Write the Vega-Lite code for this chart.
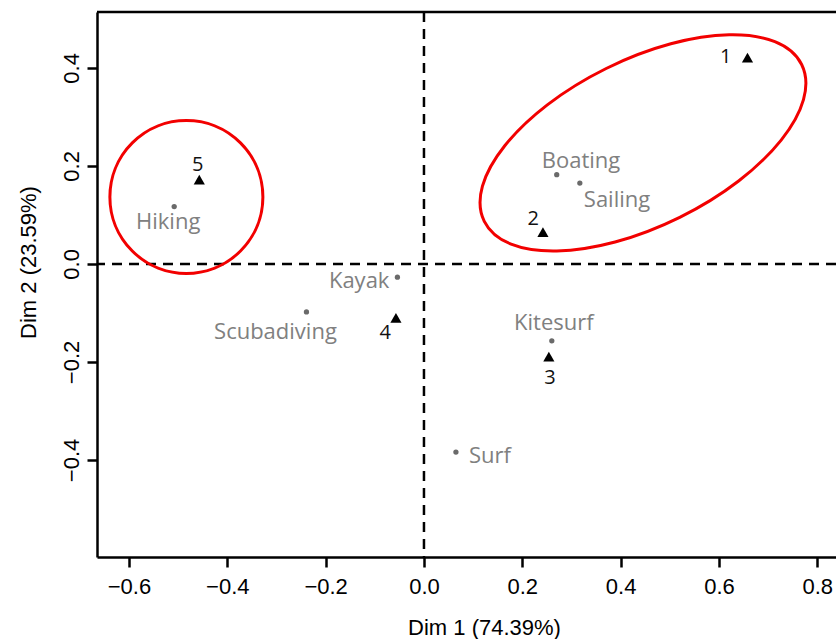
{
  "$schema": "https://vega.github.io/schema/vega-lite/v6.json",
  "autosize": "none",
  "width": 739,
  "height": 545,
  "padding": {"left": 97, "top": 12, "right": 0, "bottom": 82},
  "background": "white",
  "config": {
    "view": {"stroke": null},
    "axis": {
      "grid": false,
      "domainColor": "black",
      "domainWidth": 2.5,
      "tickColor": "black",
      "tickWidth": 2.5,
      "tickSize": 10,
      "labelFont": "Liberation Sans",
      "labelFontSize": 22,
      "labelColor": "black",
      "titleFont": "Liberation Sans",
      "titleFontSize": 22,
      "titleFontWeight": "normal",
      "titleColor": "black"
    }
  },
  "datasets": {
    "points": [
      {"name": "1", "type": "group", "x": 0.658, "y": 0.421},
      {"name": "2", "type": "group", "x": 0.242, "y": 0.065},
      {"name": "3", "type": "group", "x": 0.254, "y": -0.189},
      {"name": "4", "type": "group", "x": -0.057, "y": -0.110},
      {"name": "5", "type": "group", "x": -0.457, "y": 0.172},
      {"name": "Boating", "type": "activity", "x": 0.270, "y": 0.182},
      {"name": "Sailing", "type": "activity", "x": 0.317, "y": 0.165},
      {"name": "Hiking", "type": "activity", "x": -0.508, "y": 0.117},
      {"name": "Kayak", "type": "activity", "x": -0.054, "y": -0.027},
      {"name": "Scubadiving", "type": "activity", "x": -0.239, "y": -0.098},
      {"name": "Kitesurf", "type": "activity", "x": 0.260, "y": -0.157},
      {"name": "Surf", "type": "activity", "x": 0.065, "y": -0.384}
    ],
    "circles": [{"x": -0.4832, "y": 0.1367}],
    "ellipses": [{"x": 0.4454, "y": 0.2469}]
  },
  "layer": [
    {
      "data": {"name": "points"},
      "transform": [{"filter": "datum.type == 'activity'"}],
      "mark": {"type": "point", "shape": "circle", "size": 28, "filled": true, "color": "#6a6a6a", "opacity": 1},
      "encoding": {
        "x": {
          "field": "x", "type": "quantitative",
          "scale": {"domain": [-0.665, 0.838], "nice": false, "zero": false},
          "axis": {
            "title": "Dim 1 (74.39%)",
            "values": [-0.6, -0.4, -0.2, 0, 0.2, 0.4, 0.6, 0.8],
            "format": ".1f",
            "labelPadding": 9,
            "labelFlush": false,
            "titleX": 387, "titleY": 77, "titleBaseline": "alphabetic", "titleAlign": "center"
          }
        },
        "y": {
          "field": "y", "type": "quantitative",
          "scale": {"domain": [-0.598, 0.514], "nice": false, "zero": false},
          "axis": {
            "title": "Dim 2 (23.59%)",
            "values": [-0.4, -0.2, 0, 0.2, 0.4],
            "format": ".1f",
            "labelAngle": -90,
            "labelAlign": "center",
            "labelBaseline": "middle",
            "labelPadding": 16,
            "labelFlush": false,
            "titleX": -69, "titleY": 250, "titleBaseline": "middle", "titleAngle": -90, "titleAlign": "center"
          }
        }
      }
    },
    {
      "data": {"values": [{}]},
      "mark": {"type": "rule", "color": "black", "strokeWidth": 2.5, "strokeDash": [10, 7]},
      "encoding": {"x": {"datum": 0, "type": "quantitative"}}
    },
    {
      "data": {"values": [{}]},
      "mark": {"type": "rule", "color": "black", "strokeWidth": 2.5, "strokeDash": [10, 7]},
      "encoding": {"y": {"datum": 0, "type": "quantitative"}}
    },
    {
      "data": {"values": [{}]},
      "mark": {"type": "rule", "color": "black", "strokeWidth": 2.5},
      "encoding": {"y": {"datum": 0.514, "type": "quantitative"}}
    },
    {
      "data": {"name": "circles"},
      "mark": {"type": "point", "shape": "circle", "size": 23409, "filled": false, "stroke": "#f20000", "strokeWidth": 3, "opacity": 1},
      "encoding": {"x": {"field": "x", "type": "quantitative"}, "y": {"field": "y", "type": "quantitative"}}
    },
    {
      "data": {"name": "ellipses"},
      "mark": {
        "type": "point",
        "shape": "M 1 0 C 1 0.259 0.5523 0.469 0 0.469 C -0.5523 0.469 -1 0.259 -1 0 C -1 -0.259 -0.5523 -0.469 0 -0.469 C 0.5523 -0.469 1 -0.259 1 0 Z",
        "size": 125316, "angle": -26.3, "filled": false, "stroke": "#f20000", "strokeWidth": 3, "opacity": 1
      },
      "encoding": {"x": {"field": "x", "type": "quantitative"}, "y": {"field": "y", "type": "quantitative"}}
    },
    {
      "data": {"name": "points"},
      "transform": [{"filter": "datum.type == 'group'"}],
      "mark": {"type": "point", "shape": "triangle-up", "size": 125, "filled": true, "color": "black", "opacity": 1},
      "encoding": {"x": {"field": "x", "type": "quantitative"}, "y": {"field": "y", "type": "quantitative"}}
    },
    {
      "data": {"name": "points"},
      "encoding": {"x": {"field": "x", "type": "quantitative"}, "y": {"field": "y", "type": "quantitative"}, "text": {"field": "name"}},
      "layer": [
        {"transform": [{"filter": "datum.name == 'Boating'"}], "mark": {"type": "text", "font": "Open Sans", "fontSize": 22, "color": "#808080", "align": "left", "baseline": "alphabetic", "dx": -15, "dy": -7}},
        {"transform": [{"filter": "datum.name == 'Sailing'"}], "mark": {"type": "text", "font": "Open Sans", "fontSize": 22, "color": "#808080", "align": "left", "baseline": "alphabetic", "dx": 4, "dy": 24}},
        {"transform": [{"filter": "datum.name == 'Hiking'"}], "mark": {"type": "text", "font": "Open Sans", "fontSize": 22, "color": "#808080", "align": "center", "baseline": "alphabetic", "dx": -6, "dy": 22}},
        {"transform": [{"filter": "datum.name == 'Kayak'"}], "mark": {"type": "text", "font": "Open Sans", "fontSize": 22, "color": "#808080", "align": "right", "baseline": "alphabetic", "dx": -8, "dy": 11}},
        {"transform": [{"filter": "datum.name == 'Scubadiving'"}], "mark": {"type": "text", "font": "Open Sans", "fontSize": 22, "color": "#808080", "align": "center", "baseline": "alphabetic", "dx": -31, "dy": 27}},
        {"transform": [{"filter": "datum.name == 'Kitesurf'"}], "mark": {"type": "text", "font": "Open Sans", "fontSize": 22, "color": "#808080", "align": "center", "baseline": "alphabetic", "dx": 2, "dy": -11}},
        {"transform": [{"filter": "datum.name == 'Surf'"}], "mark": {"type": "text", "font": "Open Sans", "fontSize": 22, "color": "#808080", "align": "left", "baseline": "alphabetic", "dx": 13, "dy": 11}},
        {"transform": [{"filter": "datum.name == '1'"}], "mark": {"type": "text", "font": "Open Sans", "fontSize": 20, "color": "#111111", "align": "right", "baseline": "alphabetic", "dx": -16, "dy": 5}},
        {"transform": [{"filter": "datum.name == '2'"}], "mark": {"type": "text", "font": "Open Sans", "fontSize": 20, "color": "#111111", "align": "right", "baseline": "alphabetic", "dx": -4, "dy": -7}},
        {"transform": [{"filter": "datum.name == '5'"}], "mark": {"type": "text", "font": "Open Sans", "fontSize": 20, "color": "#111111", "align": "center", "baseline": "alphabetic", "dx": -1.5, "dy": -8.5}},
        {"transform": [{"filter": "datum.name == '4'"}], "mark": {"type": "text", "font": "Open Sans", "fontSize": 20, "color": "#111111", "align": "right", "baseline": "alphabetic", "dx": -5, "dy": 21}},
        {"transform": [{"filter": "datum.name == '3'"}], "mark": {"type": "text", "font": "Open Sans", "fontSize": 20, "color": "#111111", "align": "center", "baseline": "alphabetic", "dx": 1, "dy": 27.5}}
      ]
    }
  ]
}
